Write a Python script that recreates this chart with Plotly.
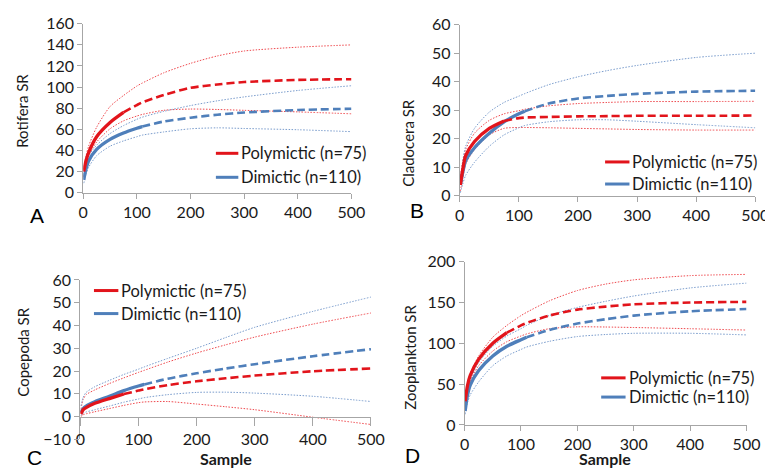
import plotly.graph_objects as go

# ---------------- data ----------------
X = [1, 5, 10, 25, 50, 75, 100, 110, 150, 200, 250, 300, 400, 500]
N_POLY = 75
N_DIM = 110
X_TICKS = [0, 100, 200, 300, 400, 500]

A_POLY = [20, 30, 38, 53, 66.5, 76, 83, 85.5, 92.5, 99.3, 102.5, 104.8, 106.8, 107.5]
A_POLY_UP = [22, 34, 44, 62, 81.6, 92, 101, 103.8, 113.5, 122.5, 129.5, 134.2, 137.8, 140]
A_POLY_LO = [15, 25, 35, 48, 60.5, 68, 72.6, 74.1, 78, 79.2, 78.8, 78, 76.5, 74.7]
A_DIM = [12, 22, 30, 41, 50.5, 56.5, 61, 62.6, 67.4, 71, 73.8, 75.9, 78.3, 79.5]
A_DIM_UP = [17, 28, 35, 45, 56, 63.5, 69.5, 71.5, 77, 82.5, 87, 90.7, 96.8, 101.3]
A_DIM_LO = [9, 17, 24, 35, 44, 49, 53, 54.5, 57.5, 60.5, 61.4, 60.8, 59.6, 57.8]

B_POLY = [3.7, 9, 14, 19, 23.6, 26.2, 27.2, 27.4, 27.6, 27.8, 27.9, 28, 28, 28.1]
B_POLY_UP = [6, 12, 16.2, 21.9, 26.4, 28.7, 29.8, 30.3, 31.5, 32.3, 32.7, 33, 33, 33.1]
B_POLY_LO = [1.5, 6, 11, 16.2, 21.3, 23.6, 23.9, 23.9, 23.8, 23.6, 23.4, 23.2, 23, 23]
B_DIM = [3.7, 8, 12.2, 16.8, 21.9, 25.9, 28.7, 29.6, 32.3, 34.1, 35, 35.7, 36.5, 36.8]
B_DIM_UP = [6, 12, 17.3, 23.6, 29.3, 32.7, 34.9, 35.8, 38.9, 41.7, 43.9, 45.7, 48.5, 50]
B_DIM_LO = [1, 4, 7.1, 11.7, 17.3, 21.3, 23.8, 24.6, 25.9, 26.6, 26.6, 26.1, 24.9, 23.8]

C_POLY = [1.1, 3, 3.9, 5.8, 7.9, 9.9, 11.4, 12, 13.8, 15.5, 16.8, 18, 19.9, 21.1]
C_POLY_UP = [3.2, 7.5, 9.6, 11.7, 14.5, 17, 19.4, 20.3, 23.9, 27.9, 31.5, 34.9, 40.6, 45.5]
C_POLY_LO = [0, 0.8, 1.2, 2.1, 3.5, 4.9, 6.1, 6.4, 6.6, 5.5, 4.3, 3, -0.3, -3.5]
C_DIM = [1.8, 3.5, 4.6, 6.5, 8.9, 11.4, 13.4, 14.1, 16.6, 19, 21.1, 23, 26.5, 29.6]
C_DIM_UP = [4.6, 8.5, 10.6, 13.1, 15.9, 18.5, 20.8, 21.8, 25.5, 30, 34.7, 39.2, 46.2, 52.5]
C_DIM_LO = [0.4, 1.5, 2, 3, 4.6, 6.3, 7.7, 8.3, 9.6, 10.6, 10.7, 10.3, 8.9, 6.6]

D_POLY = [29, 48, 60.7, 80.6, 100, 113, 122, 125, 134, 141.3, 145, 147.8, 150, 150.8]
D_POLY_UP = [29, 50, 62.7, 84.5, 107.5, 122, 134, 138, 152, 164.7, 172.6, 177.8, 183, 184.5]
D_POLY_LO = [21, 40, 52.8, 72.6, 90.5, 102, 109, 111.5, 117.9, 120.2, 120, 119.4, 117.9, 116.3]
D_DIM = [17, 36, 48.8, 66.7, 84.5, 96.4, 104.4, 107.5, 116.3, 124.2, 129.5, 134, 139.3, 142]
D_DIM_UP = [21, 42, 54.8, 76.6, 96.4, 109, 118, 122, 134, 144, 151.5, 158, 167.9, 173.8]
D_DIM_LO = [13, 27, 36.9, 52.8, 72.6, 84.5, 92.5, 95.5, 102.4, 108.3, 110.8, 112.3, 112.3, 110.3]

LEG_POLY = "Polymictic (n=75)"
LEG_DIM = "Dimictic (n=110)"

# ---------------- style ----------------
W, H = 773, 471
FONT = "Lato, 'Open Sans', Arial, sans-serif"
RED = "#E2141B"
RED_CI = "#EE4A4F"
BLUE = "#4F7FBA"
BLUE_CI = "#7A9CCC"
AXIS = "#A6A6A6"
TXT = "#1a1a1a"

def px(x):
    return x / W

def py(y):
    return 1 - y / H

panels = [
    dict(key="", xd=(72, 347), yd=(6, 182), yr=(0, 160), dt=20,
         series=(A_POLY, A_POLY_UP, A_POLY_LO, A_DIM, A_DIM_UP, A_DIM_LO),
         ytitle="Rotifera SR", yt_pos=(9, 97), letter="A", let_pos=(25, 206),
         leg=(208, 231, 141, 166), sample=None, xcross=None),
    dict(key="2", xd=(458, 761), yd=(7, 185), yr=(0, 60), dt=10,
         series=(B_POLY, B_POLY_UP, B_POLY_LO, B_DIM, B_DIM_UP, B_DIM_LO),
         ytitle="Cladocera SR", yt_pos=(405, 130), letter="B", let_pos=(414, 201),
         leg=(607, 632, 150, 173), sample=None, xcross=None),
    dict(key="3", xd=(69, 367), yd=(273, 439), yr=(-10, 60), dt=10,
         series=(C_POLY, C_POLY_UP, C_POLY_LO, C_DIM, C_DIM_UP, C_DIM_LO),
         ytitle="Copepoda SR", yt_pos=(10, 348), letter="C", let_pos=(22, 458),
         leg=(83, 108, 284, 308), sample=(218, 463), xcross=0),
    dict(key="4", xd=(463, 752), yd=(254, 424), yr=(0, 200), dt=50,
         series=(D_POLY, D_POLY_UP, D_POLY_LO, D_DIM, D_DIM_UP, D_DIM_LO),
         ytitle="Zooplankton SR", yt_pos=(407, 353), letter="D", let_pos=(410, 456),
         leg=(603, 628, 375, 395), sample=(607, 463), xcross=None),
]

fig = go.Figure()
annotations = []
shapes = []

def split(xs, ys, n):
    sx = [x for x in xs if x <= n]
    sy = [y for x, y in zip(xs, ys) if x <= n]
    dx = [x for x in xs if x >= n]
    dy = [y for x, y in zip(xs, ys) if x >= n]
    return sx, sy, dx, dy

SM = 0.7
for p in panels:
    xa = "x" + p["key"]
    ya = "y" + p["key"]
    pm, pu, pl, dm, du, dl = p["series"]
    for ys, col in ((pu, RED_CI), (pl, RED_CI), (du, BLUE_CI), (dl, BLUE_CI)):
        fig.add_trace(go.Scatter(x=X, y=ys, mode="lines", xaxis=xa, yaxis=ya,
                                 line=dict(color=col, width=1, dash="1.5px,1.5px", shape="spline", smoothing=SM),
                                 showlegend=False, hoverinfo="skip"))
    for ys, col, n in ((dm, BLUE, N_DIM), (pm, RED, N_POLY)):
        sx, sy, dx, dy = split(X, ys, n)
        fig.add_trace(go.Scatter(x=dx, y=dy, mode="lines", xaxis=xa, yaxis=ya,
                                 line=dict(color=col, width=2.6, dash="8px,4px", shape="spline", smoothing=SM),
                                 showlegend=False))
        fig.add_trace(go.Scatter(x=sx, y=sy, mode="lines", xaxis=xa, yaxis=ya,
                                 line=dict(color=col, width=3.3, shape="spline", smoothing=SM),
                                 showlegend=False))

    axis_common = dict(showgrid=False, zeroline=False, showline=True, linecolor=AXIS, linewidth=1,
                       ticks="outside", ticklen=5, tickcolor=AXIS,
                       tickfont=dict(family=FONT, size=16, color=TXT))
    ydom = [py(p["yd"][1]), py(p["yd"][0])]
    xaxis = dict(domain=[px(p["xd"][0]), px(p["xd"][1])], range=[0, 500],
                 tickvals=X_TICKS, **axis_common)
    if p["xcross"] is None:
        xaxis["anchor"] = ya
    else:
        frac = (p["xcross"] - p["yr"][0]) / (p["yr"][1] - p["yr"][0])
        xaxis["anchor"] = "free"
        xaxis["position"] = ydom[0] + frac * (ydom[1] - ydom[0])
        xaxis["ticklen"] = 8
    fig.layout["xaxis" + p["key"]] = xaxis
    yt = list(range(p["yr"][0], p["yr"][1] + 1, p["dt"]))
    fig.layout["yaxis" + p["key"]] = dict(domain=ydom, range=list(p["yr"]), anchor=xa,
                                          tickvals=yt, **axis_common)

    annotations.append(dict(xref="paper", yref="paper", x=px(p["yt_pos"][0]), y=py(p["yt_pos"][1]),
                            text=p["ytitle"], textangle=-90, showarrow=False,
                            xanchor="center", yanchor="middle",
                            font=dict(family=FONT, size=15, color=TXT)))
    annotations.append(dict(xref="paper", yref="paper", x=px(p["let_pos"][0]), y=py(p["let_pos"][1]),
                            text=p["letter"], showarrow=False, xanchor="center", yanchor="middle",
                            font=dict(family="Liberation Sans, Arial, sans-serif", size=21, color="#000")))
    if p["sample"]:
        annotations.append(dict(xref="paper", yref="paper", x=px(p["sample"][0]), y=0,
                                text="<b>Sample</b>", showarrow=False, xanchor="center", yanchor="bottom",
                                font=dict(family=FONT, size=16, color=TXT)))
    lx0, lx1, ly1, ly2 = p["leg"]
    for ly, col, txt in ((ly1, RED, LEG_POLY), (ly2, BLUE, LEG_DIM)):
        shapes.append(dict(type="line", xref="paper", yref="paper",
                           x0=px(lx0), x1=px(lx1), y0=py(ly), y1=py(ly),
                           line=dict(color=col, width=3)))
        annotations.append(dict(xref="paper", yref="paper", x=px(lx1 + 1), y=py(ly),
                                text=txt, showarrow=False, xanchor="left", yanchor="middle",
                                font=dict(family=FONT, size=16.5, color=TXT)))

fig.update_layout(width=W, height=H, margin=dict(l=0, r=0, t=0, b=0),
                  paper_bgcolor="white", plot_bgcolor="white",
                  annotations=annotations, shapes=shapes, showlegend=False,
                  font=dict(family=FONT))

fig.write_html("out.html")
